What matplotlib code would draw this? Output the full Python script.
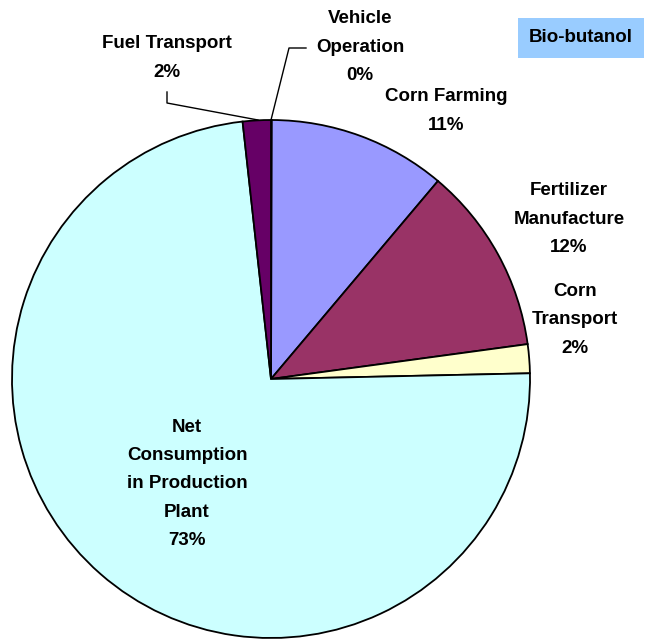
import matplotlib.pyplot as plt

labels = ['Vehicle\nOperation\n0%', 'Corn Farming\n11%', 'Fertilizer\nManufacture\n12%',
          'Corn\nTransport\n2%', 'Net\nConsumption\nin Production\nPlant\n73%', 'Fuel Transport\n2%']
shares = [0.05, 11.1, 11.7, 1.8, 73.6, 1.75]
colors = ['#333399', '#9999FF', '#993366', '#FFFFCC', '#CCFFFF', '#660066']

W, H = 649, 640
cx, cy, r = 271, 379, 259

fig = plt.figure(figsize=(W / 100, H / 100), dpi=100)
ax = fig.add_axes([(cx - r) / W, (H - cy - r) / H, 2 * r / W, 2 * r / H])
ax.pie(shares, colors=colors, startangle=90, counterclock=False, radius=1,
       wedgeprops=dict(edgecolor='black', linewidth=1.3))
ax.set_xlim(-1, 1)
ax.set_ylim(-1, 1)
ax.set_aspect('equal')
ax.axis('off')

def px(x, y):
    return ((x - cx) / r, (cy - y) / r)

font = dict(fontfamily='Liberation Sans', fontweight='bold', fontsize=13.5,
            ha='center', va='center', linespacing=1.85)
label_pos = [(360, 47), (446, 111), (569, 219), (575, 320), (187, 484), (167, 58)]
for lab, (x, y) in zip(labels, label_pos):
    tx, ty = px(x, y)
    ax.text(tx, ty, lab, clip_on=False, **font)

# leader lines
for pts in [[(167, 92), (167, 103), (258, 120)], [(306, 48), (289, 48), (271, 120)]]:
    xs, ys = zip(*[px(x, y) for x, y in pts])
    ax.plot(xs, ys, color='black', lw=1, clip_on=False)

bx, by = px(581, 38)
ax.text(bx, by, 'Bio-butanol', clip_on=False, fontfamily='Liberation Sans', fontweight='bold',
        fontsize=13.5, ha='center', va='center',
        bbox=dict(boxstyle='square,pad=0.6', facecolor='#99CCFF', edgecolor='none'))

fig.savefig('out.png', dpi=100)
